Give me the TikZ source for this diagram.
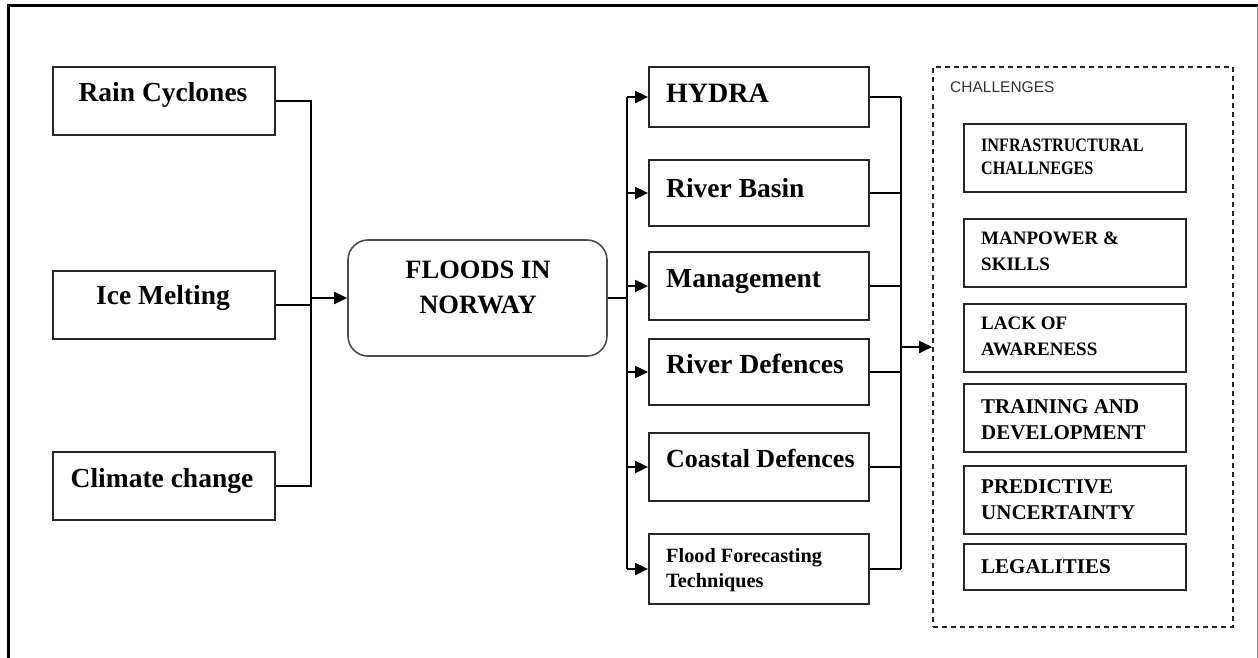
\documentclass[tikz,border=0pt]{standalone}
\usepackage{graphicx}
\usepackage{fontspec}
\setmainfont{Liberation Serif}
\newfontfamily\sansfam{Liberation Sans}
\usetikzlibrary{arrows.meta}
\newcommand\fsz[2]{\fontsize{#1}{#2}\selectfont}
\newcommand\cond[1]{\scalebox{0.85}[1]{#1}}
\begin{document}
\begin{tikzpicture}[x=1pt,y=-1pt,
  box/.style={draw=black!85, line width=1.8pt, inner sep=0pt, minimum width=222pt},
  rbox/.style={box, minimum width=220pt},
  cbox/.style={box, minimum width=222pt},
  roundbox/.style={draw=black!70, line width=1.6pt, rounded corners=20pt, inner sep=0pt,
                   minimum width=259pt, minimum height=116pt},
  dashbox/.style={draw=black!85, line width=1.6pt, dash pattern=on 5pt off 4pt, inner sep=0pt,
                  minimum width=300pt, minimum height=560pt},
  % multi-line labels: the base anchor sits on the last line
  ctxt/.style={inner sep=0pt, anchor=base, align=center, font=\bfseries},
  ltxt/.style={inner sep=0pt, anchor=base west, align=left, font=\bfseries},
  conn/.style={draw=black, line width=1.8pt},
  arr/.style={conn, -{Triangle[length=13pt,width=12pt]}}
]
\useasboundingbox (0,0) rectangle (1258,658);

% frame
\draw[line width=3pt] (8,700) -- (8,6) -- (1300,6);
\draw[black!45, line width=1pt] (1257,6) -- (1257,700);

% causes
\node[box, minimum height=68pt] (rc) at (164,101) {};
\node[box, minimum height=68pt] (im) at (164,305) {};
\node[box, minimum height=68pt] (cc) at (164,486) {};
\node[ctxt, font=\bfseries\fsz{27.5}{33}] (rct) at (163,102) {Rain Cyclones};
\node[ctxt, font=\bfseries\fsz{27.5}{33}] (imt) at (163,304) {Ice Melting};
\node[ctxt, font=\bfseries\fsz{27.5}{33}] (cct) at (162,487) {Climate change};

% central node
\node[roundbox] (fl) at (477.5,298) {};
\node[ctxt, font=\bfseries\fsz{26.5}{35}] (flt) at (478,313) {FLOODS IN\\NORWAY};

% measures
\node[rbox, minimum height=60pt] (hy) at (759,97) {};
\node[rbox, minimum height=66pt] (rb) at (759,193) {};
\node[rbox, minimum height=68pt] (mg) at (759,286) {};
\node[rbox, minimum height=66pt] (rd) at (759,372) {};
\node[rbox, minimum height=68pt] (cd) at (759,467) {};
\node[rbox, minimum height=70pt] (ff) at (759,569) {};
\node[ltxt, font=\bfseries\fsz{28}{33}] (hyt) at (666,103) {HYDRA};
\node[ltxt, font=\bfseries\fsz{27.5}{33}] (rbt) at (666,197) {River Basin};
\node[ltxt, font=\bfseries\fsz{27.6}{33}] (mgt) at (666,287) {Management};
\node[ltxt, font=\bfseries\fsz{27.7}{33}] (rdt) at (666,373) {River Defences};
\node[ltxt, font=\bfseries\fsz{26}{33}] (cdt) at (666,467) {Coastal Defences};
\node[ltxt, font=\bfseries\fsz{20.3}{25}] (fft) at (666,587) {Flood Forecasting\\Techniques};

% challenges
\node[dashbox] (ch) at (1083,347) {};
\node[inner sep=0pt, anchor=base west, font=\sansfam\fsz{15.5}{18}, text=black!80] (cht) at (950,93) {CHALLENGES};
\node[cbox, minimum height=68pt] (c1) at (1075,158) {};
\node[cbox, minimum height=68pt] (c2) at (1075,253) {};
\node[cbox, minimum height=68pt] (c3) at (1075,338) {};
\node[cbox, minimum height=68pt] (c4) at (1075,418) {};
\node[cbox, minimum height=68pt] (c5) at (1075,500) {};
\node[cbox, minimum height=46pt] (c6) at (1075,567) {};
\node[ltxt, font=\bfseries\fsz{19}{23}] (c1t) at (981,174) {\cond{INFRASTRUCTURAL}\\\cond{CHALLNEGES}};
\node[ltxt, font=\bfseries\fsz{19}{26}] (c2t) at (981,270) {MANPOWER \&\\SKILLS};
\node[ltxt, font=\bfseries\fsz{19}{26}] (c3t) at (981,355) {LACK OF\\AWARENESS};
\node[ltxt, font=\bfseries\fsz{21}{26}] (c4t) at (981,439) {TRAINING AND\\DEVELOPMENT};
\node[ltxt, font=\bfseries\fsz{21}{26}] (c5t) at (981,519) {PREDICTIVE\\UNCERTAINTY};
\node[ltxt, font=\bfseries\fsz{21}{26}] (c6t) at (981,573) {LEGALITIES};

% bus lines
\coordinate (busL) at (311,0);
\coordinate (busA) at (627,0);
\coordinate (busB) at (901,0);

% causes -> floods
\draw[conn] (rc.east) -- (rc.east -| busL) -- (cc.east -| busL) -- (cc.east);
\draw[conn] (im.east) -- (im.east -| busL);
\draw[arr] (fl.west -| busL) -- (fl.west);

% floods -> measures
\draw[conn] (fl.east) -- (fl.east -| busA);
\draw[conn] (hy.west -| busA) -- (ff.west -| busA);
\foreach \n in {hy,rb,mg,rd,cd,ff}
  \draw[arr] (\n.west -| busA) -- (\n.west);

% measures -> challenges
\foreach \n in {hy,rb,mg,rd,cd,ff}
  \draw[conn] (\n.east) -- (\n.east -| busB);
\draw[conn] (hy.east -| busB) -- (ff.east -| busB);
\draw[arr] (ch.west -| busB) -- (ch.west);
\end{tikzpicture}
\end{document}
